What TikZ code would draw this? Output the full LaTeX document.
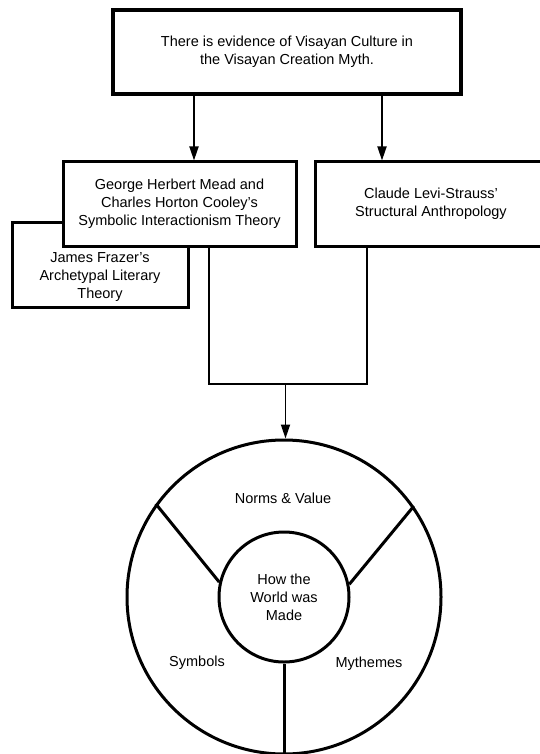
\documentclass[tikz,border=0pt]{standalone}
\usepackage{fontspec}
\setmainfont{Liberation Sans}
\usetikzlibrary{arrows.meta,positioning}

\begin{document}
\begin{tikzpicture}[
  x=1pt, y=-1pt,
  stage/.style={rectangle, draw, line width=3pt, fill=white, align=center, font=\fontsize{14.5}{18}\selectfont},
  lbl/.style={align=center, font=\fontsize{14.5}{18}\selectfont},
  ring/.style={circle, draw, line width=3pt, inner sep=0pt, align=center, font=\fontsize{14.5}{18}\selectfont},
  arr/.style={-{Triangle[length=14pt,width=9pt]}, line width=1.8pt},
  link/.style={line width=1.5pt}
]
  \useasboundingbox (0,0) rectangle (540,754);
  \clip (0,0) rectangle (540,754);

  % theory boxes
  \node[stage, minimum width=176pt, minimum height=85pt] (frazer) at (100,264.5) {};
  \node[lbl] (frazerText) at ([yshift=-13pt]frazer.center) {James Frazer’s\\Archetypal Literary\\Theory};
  \node[stage, minimum width=233pt, minimum height=84pt] (mead) at (179.5,204)
    {George Herbert Mead and\\Charles Horton Cooley’s\\Symbolic Interactionism Theory};
  \node[stage, minimum width=232pt, minimum height=84pt, right=16pt of mead] (levi)
    {Claude Levi-Strauss’\\Structural Anthropology};
  \node[stage, line width=3.4pt, minimum width=348pt, minimum height=84pt] (top) at (287,52)
    {There is evidence of Visayan Culture in\\the Visayan Creation Myth.};

  \draw[arr] ([xshift=-93pt]top.south) -- ([xshift=-93pt]top.south |- mead.north);
  \draw[arr] ([xshift=95pt]top.south) -- ([xshift=95pt]top.south |- levi.north);

  % merge into the wheel
  \coordinate (merge) at (285.5,384);
  \draw[link] ([xshift=29.5pt]mead.south) |- (merge) -| ([xshift=-64pt]levi.south);

  \node[ring, minimum size=314pt] (wheel) at (284,597) {};
  \node[ring, minimum size=130pt] (hub) at (wheel.center) {How the\\World was\\Made};
  \draw[arr] (merge) -- (merge |- wheel.north);

  \draw[line width=3pt] (hub.167) -- (wheel.144);
  \draw[line width=3pt] (hub.11) -- (wheel.35);
  \draw[line width=3pt] (hub.south) -- (wheel.south);

  \node[lbl] (norms) at (283,498) {Norms \& Value};
  \node[lbl] (symbols) at (197,663) {Symbols};
  \node[lbl] (mythemes) at (369,664) {Mythemes};
\end{tikzpicture}
\end{document}
